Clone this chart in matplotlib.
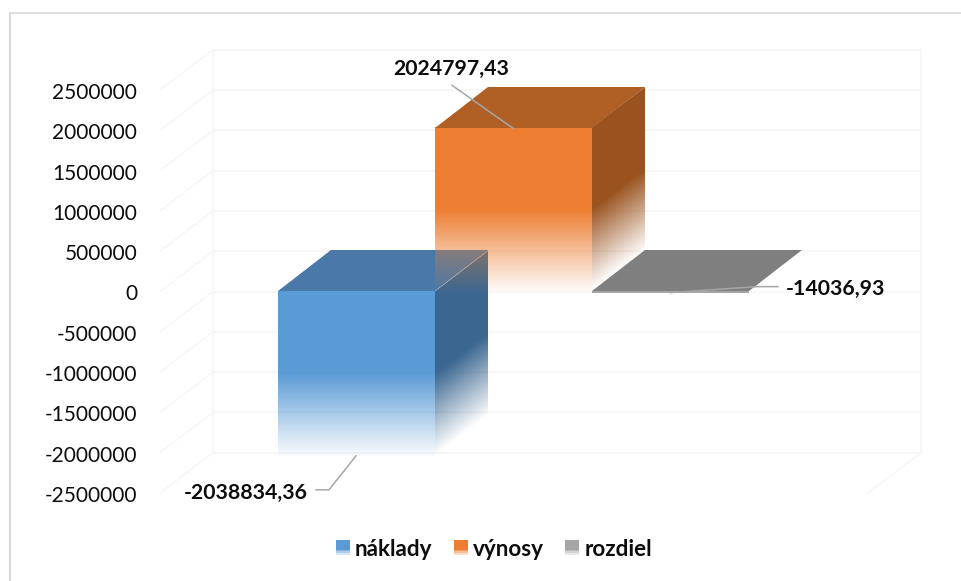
#!/usr/bin/env python3
"""3D-looking column chart: naklady / vynosy / rozdiel, drawn with plain matplotlib."""

import matplotlib
matplotlib.use("Agg")
import matplotlib.patches as mpatches
import matplotlib.pyplot as plt
import matplotlib.transforms as mtrans
import numpy as np
from matplotlib.colors import to_rgb
from matplotlib.legend_handler import HandlerBase
from matplotlib.lines import Line2D

plt.rcParams["font.family"] = ["Lato", "DejaVu Sans"]

# ── data ──────────────────────────────────────────────────────────────────────

categories = ["náklady", "výnosy", "rozdiel"]
values = [-2038834.36, 2024797.43, -14036.93]
value_labels = ["-2038834,36", "2024797,43", "-14036,93"]
y_ticks = [2500000, 2000000, 1500000, 1000000, 500000, 0,
           -500000, -1000000, -1500000, -2000000, -2500000]

# ── style ─────────────────────────────────────────────────────────────────────

W, H = 961, 581
FRONT = {"náklady": "#5b9bd5", "výnosy": "#ed7d31", "rozdiel": "#a5a5a5"}
TOP = {"náklady": "#4a78a8", "výnosy": "#b06025", "rozdiel": "#7f7f7f"}
SIDE = {"náklady": "#3a6690", "výnosy": "#9a531f", "rozdiel": "#7f7f7f"}
GRID = "#f7f7f7"
LEADER = "#a6a6a6"
TEXT = "#0d0d0d"

# depth of the fake 3D box, in data units (x = bar widths, y = value)
DEPTH_X = 53 / 157
DEPTH_Y = 500000

fig = plt.figure(figsize=(W / 100, H / 100), dpi=100, facecolor="white")
ax = fig.add_axes([160 / W, (H - 493) / H, 708 / W, 403 / H])
ax.patch.set_visible(False)
for spine in ax.spines.values():
    spine.set_visible(False)

XLIM = (-196 / 157, 512 / 157)
YLIM = (y_ticks[-1], y_ticks[0])


def face(origin, u, v, color, a_top=1.0, a_bot=1.0, hold=0.0, zorder=3):
    """Fill the parallelogram origin+s*u+t*v, alpha fading from t=1 down to t=0."""
    t = np.linspace(0, 1, 256)
    # alpha stays a_top over the upper `hold` share of the face
    fade = np.clip(t / (1 - hold), 0, 1)
    alpha = a_bot + (a_top - a_bot) * fade
    img = np.ones((256, 2, 4))
    img[..., :3] = to_rgb(color)
    img[..., 3] = alpha[:, None]
    matrix = [[u[0], v[0], origin[0]], [u[1], v[1], origin[1]], [0, 0, 1]]
    ax.imshow(
        img, origin="lower", extent=(0, 1, 0, 1), aspect="auto",
        interpolation="nearest", clip_on=False, zorder=zorder,
        transform=mtrans.Affine2D(np.array(matrix, dtype=float)) + ax.transData,
    )


def bar3d(i, value, zorder):
    name = categories[i]
    low, high = min(value, 0), max(value, 0)
    h = high - low
    thin = h < 100000
    a_bot, hold = (1.0, 0.0) if thin else (0.03, 0.5)
    face((i - 0.5, low), (1, 0), (0, h), FRONT[name], 1.0, a_bot, hold, zorder)
    if not thin:
        face((i + 0.5, low), (DEPTH_X, DEPTH_Y), (0, h), SIDE[name], 1.0, 0.0, 0.5, zorder)
    face((i - 0.5, high), (1, 0), (DEPTH_X, DEPTH_Y), TOP[name], zorder=zorder)


# ── walls and grid ────────────────────────────────────────────────────────────

rear_l, rear_r = XLIM[0] + DEPTH_X, XLIM[1] + DEPTH_X
for tick in y_ticks:
    ax.plot([rear_l, rear_r], [tick + DEPTH_Y] * 2, color=GRID, lw=1.6, zorder=1, clip_on=False)
    ax.plot([XLIM[0], rear_l], [tick, tick + DEPTH_Y], color=GRID, lw=1.2, zorder=1, clip_on=False)
for x in (rear_l, rear_r):
    ax.plot([x, x], [YLIM[0] + DEPTH_Y, YLIM[1] + DEPTH_Y], color=GRID, lw=1.6, zorder=1, clip_on=False)
ax.plot([XLIM[1], rear_r], [YLIM[0], YLIM[0] + DEPTH_Y], color=GRID, lw=1.2, zorder=1, clip_on=False)

# ── bars (orange first, blue last since it sits over orange) ──────────────────

bar3d(1, values[1], 3)
bar3d(2, values[2], 3)
bar3d(0, values[0], 4)

# orange showing through the blue box where the two overlap
face((0.5, 0), (DEPTH_X, 0), (0, DEPTH_Y), "#c08050", 0.5, 0.05, 0.0, 5)

# ── data labels and leader lines (offsets in pixels from the bar anchor) ──────

label_setup = [
    # anchor x, leader offsets, text offset
    (0.0, [(0, 0), (-27, -34), (-40, -34)], (-110, -37)),
    (1.0, [(0, 0), (-61, 43)], (-62, 59)),
    (2.0, [(0, 0), (87, 6), (108, 6)], (165, 4)),
]
for value, text, (x_a, leader, offset) in zip(values, value_labels, label_setup):
    anchor = (x_a, value)
    trans = mtrans.ScaledTranslation(anchor[0], anchor[1], ax.transData)
    xs, ys = zip(*leader)
    ax.plot(xs, ys, color=LEADER, lw=1.1, transform=mtrans.IdentityTransform() + trans,
            clip_on=False, zorder=6)
    ax.annotate(text, xy=anchor, xytext=offset, textcoords="offset pixels",
                ha="center", va="center", fontsize=15.3, fontweight="bold",
                color=TEXT, annotation_clip=False, zorder=7)

# ── axes ──────────────────────────────────────────────────────────────────────

ax.set_xlim(*XLIM)
ax.set_ylim(*YLIM)
ax.set_xticks([])
ax.set_yticks(y_ticks)
ax.set_yticklabels([str(t) for t in y_ticks])
ax.tick_params(axis="y", length=0, pad=16.5, labelsize=15, labelcolor=TEXT)
nudge = mtrans.Affine2D().translate(0, -1)
for label in ax.get_yticklabels():
    label.set_transform(label.get_transform() + nudge)

# ── legend, swatches fade like the bars do ────────────────────────────────────


class FadeHandler(HandlerBase):
    def create_artists(self, legend, orig, xd, yd, width, height, fontsize, trans):
        rgb = np.array(to_rgb(orig.get_facecolor()))
        rows = 8
        out = []
        for k in range(rows):
            # solid on top, washed out towards the bottom row
            share = min(1.0, (k + 1) / (rows / 2))
            color = rgb * share + (1 - share)
            out.append(mpatches.Rectangle(
                (-xd, -yd + height * k / rows), width, height / rows,
                facecolor=color, edgecolor="none", transform=trans,
            ))
        return out


handles = [mpatches.Patch(facecolor=FRONT[c], label=c) for c in categories]
legend = ax.legend(
    handles=handles, loc="center", bbox_to_anchor=(494 / W, 1 - 549 / H),
    bbox_transform=fig.transFigure, ncol=3, frameon=False, borderpad=0,
    handlelength=0.62, handleheight=0.68, handletextpad=0.22, columnspacing=0.95,
    handler_map={mpatches.Patch: FadeHandler()},
    prop={"weight": "bold", "size": 16.2},
)
for t in legend.get_texts():
    t.set_color(TEXT)

# ── chart frame: only top and left edges fall inside the picture ──────────────

frame = "#d9d9d9"
fig.add_artist(Line2D([10 / W, 1], [1 - 12.5 / H] * 2, color=frame, lw=1.2))
fig.add_artist(Line2D([10 / W, 10 / W], [0, 1 - 12.5 / H], color=frame, lw=1.5))

fig.savefig("out.png", dpi=100, facecolor="white")
